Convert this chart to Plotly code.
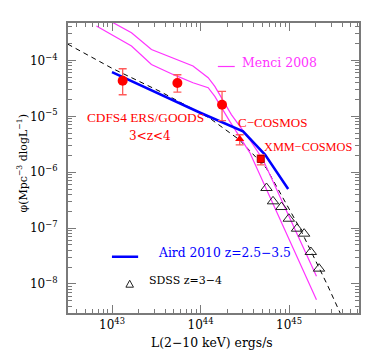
import plotly.graph_objects as go

# ---------------- data ----------------
cdfs_L = [1.32e43, 5.48e43, 1.75e44]
cdfs_phi = [4.34e-5, 3.94e-5, 1.61e-5]
cdfs_hi = [7.1e-5, 5.55e-5, 2.79e-5]
cdfs_lo = [2.43e-5, 2.72e-5, 8.34e-6]

ccosmos_L = [2.77e44]
ccosmos_phi = [3.93e-6]
ccosmos_hi = [4.68e-6]
ccosmos_lo = [3.09e-6]

xmm_L = [4.79e44]
xmm_phi = [1.72e-6]
xmm_hi = [2.04e-6]
xmm_lo = [1.35e-6]

sdss_L = [5.56e44, 6.59e44, 8.20e44, 9.93e44, 1.23e45, 1.48e45, 1.76e45, 2.18e45]
sdss_phi = [5.21e-7, 3.01e-7, 2.38e-7, 1.47e-7, 9.75e-8, 7.94e-8, 3.73e-8, 1.88e-8]

aird_L = [1.0e43, 9.77e43, 3.02e44, 5.37e44, 9.77e44]
aird_phi = [6.17e-5, 1.17e-5, 5.37e-6, 2.04e-6, 5.01e-7]

model_L = [3.16e42, 1.0e43, 3.55e43, 1.26e44, 2.75e44, 5.56e44, 1.32e45, 2.75e45, 3.98e45]
model_phi = [1.96e-4, 7.24e-5, 2.75e-5, 9.33e-6, 3.80e-6, 1.17e-6, 1.0e-7, 9.12e-9, 2.51e-9]

menci_hi_L = [8.91e42, 1.66e43, 2.79e43, 4.89e43, 8.22e43, 1.22e44, 1.45e44, 2.23e44, 3.60e44, 5.08e44, 2.04e45]
menci_hi_phi = [5.37e-4, 3.13e-4, 1.57e-4, 1.12e-4, 7.94e-5, 4.91e-5, 3.43e-5, 1.07e-5, 3.80e-6, 1.67e-6, 1.37e-8]

menci_lo_L = [6.67e42, 1.66e43, 2.79e43, 4.89e43, 8.22e43, 1.22e44, 1.45e44, 2.14e44, 3.60e44, 2.04e45]
menci_lo_phi = [4.12e-4, 1.81e-4, 8.47e-5, 5.62e-5, 3.99e-5, 3.25e-5, 2.27e-5, 8.11e-6, 2.24e-6, 5.24e-9]

x_tickvals = [1e43, 1e44, 1e45]
x_ticktext = ["10<sup>43</sup>", "10<sup>44</sup>", "10<sup>45</sup>"]
y_tickvals = [1e-8, 1e-7, 1e-6, 1e-5, 1e-4]
y_ticktext = ["10<sup>−8</sup>", "10<sup>−7</sup>", "10<sup>−6</sup>", "10<sup>−5</sup>", "10<sup>−4</sup>"]

# ---------------- styles ----------------
RED = "#ff0000"
ERR = "#ff5a5a"
MAG = "#ff33ff"
BLUE = "#0000ff"
DJ = "DejaVu Serif"
LS = "Liberation Serif"


def err(hi, val, lo):
    return dict(type="data", symmetric=False,
                array=[h - v for h, v in zip(hi, val)],
                arrayminus=[v - l for v, l in zip(val, lo)],
                color=ERR, thickness=1.3, width=4)


fig = go.Figure()

fig.add_trace(go.Scatter(x=model_L, y=model_phi, mode="lines",
                         line=dict(color="black", width=1, dash="5px,4px")))
fig.add_trace(go.Scatter(x=menci_hi_L, y=menci_hi_phi, mode="lines",
                         line=dict(color=MAG, width=1.2)))
fig.add_trace(go.Scatter(x=menci_lo_L, y=menci_lo_phi, mode="lines",
                         line=dict(color=MAG, width=1.2)))
fig.add_trace(go.Scatter(x=aird_L, y=aird_phi, mode="lines",
                         line=dict(color=BLUE, width=2.5)))
fig.add_trace(go.Scatter(x=sdss_L, y=sdss_phi, mode="markers",
                         marker=dict(symbol="triangle-up-open", size=10,
                                     color="#222222", line=dict(width=1))))
fig.add_trace(go.Scatter(x=cdfs_L, y=cdfs_phi, mode="markers",
                         marker=dict(symbol="circle", size=10, color=RED),
                         error_y=err(cdfs_hi, cdfs_phi, cdfs_lo)))
fig.add_trace(go.Scatter(x=ccosmos_L, y=ccosmos_phi, mode="markers",
                         marker=dict(symbol="triangle-up", size=8, color=RED),
                         error_y=err(ccosmos_hi, ccosmos_phi, ccosmos_lo)))
fig.add_trace(go.Scatter(x=xmm_L, y=xmm_phi, mode="markers",
                         marker=dict(symbol="square", size=7, color=RED,
                                     line=dict(color="#aa0000", width=1)),
                         error_y=err(xmm_hi, xmm_phi, xmm_lo)))

axis_common = dict(type="log", showgrid=False, zeroline=False, automargin=False,
                   showline=True, linecolor="#7a7a7a", linewidth=2,
                   mirror="allticks", ticks="inside", ticklen=8,
                   tickcolor="#7a7a7a", tickwidth=1,
                   minor=dict(ticks="inside", ticklen=4, dtick="D1",
                              tickcolor="#7a7a7a", tickwidth=1, showgrid=False),
                   tickfont=dict(family=DJ, size=12, color="black"))

# the page body adds an 8px offset, so the figure is sized to fit the window
fig.update_layout(
    width=374, height=351,
    margin=dict(l=60, r=23, t=15, b=46),
    paper_bgcolor="white", plot_bgcolor="white",
    showlegend=False,
    xaxis=dict(axis_common, range=[42.503, 45.79],
               tickvals=x_tickvals, ticktext=x_ticktext),
    yaxis=dict(axis_common, range=[-8.52, -3.33],
               tickvals=y_tickvals, ticktext=y_ticktext, ticklabelstandoff=6),
)

ann = [
    dict(text="Menci 2008", x=0.591, y=0.863, xanchor="left", color=MAG, fam=DJ, size=12.5),
    dict(text="CDFS4 ERS/GOODS", x=0.267, y=0.673, xanchor="center", color=RED, fam=LS, size=13.3),
    dict(text="3&lt;z&lt;4", x=0.281, y=0.611, xanchor="center", color=RED, fam=DJ, size=12),
    dict(text="C−COSMOS", x=0.576, y=0.656, xanchor="left", color=RED, fam=LS, size=13),
    dict(text="XMM−COSMOS", x=0.666, y=0.574, xanchor="left", color=RED, fam=LS, size=12.3),
    dict(text="Aird 2010 z=2.5−3.5", x=0.304, y=0.207, xanchor="left", color=BLUE, fam=DJ, size=12.3),
    dict(text="SDSS z=3−4", x=0.273, y=0.112, xanchor="left", color="black", fam=DJ, size=11),
]
for a in ann:
    fig.add_annotation(text=a["text"], x=a["x"], y=a["y"], xref="paper", yref="paper",
                       xanchor=a["xanchor"], yanchor="middle", showarrow=False,
                       font=dict(family=a["fam"], size=a["size"], color=a["color"]))

# axis titles
fig.add_annotation(text="φ(Mpc<sup>−3</sup> dlogL<sup>−1</sup>)", x=-0.155, y=0.515,
                   xref="paper", yref="paper", textangle=-90, showarrow=False,
                   xanchor="center", yanchor="middle",
                   font=dict(family=DJ, size=11, color="black"))
fig.add_annotation(text="L(2−10 keV) ergs/s", x=0.4955, y=-0.101,
                   xref="paper", yref="paper", showarrow=False,
                   xanchor="center", yanchor="middle",
                   font=dict(family=DJ, size=12.4, color="black"))

# legend samples
fig.add_shape(type="line", xref="paper", yref="paper", x0=0.515, x1=0.573, y0=0.850, y1=0.850,
              line=dict(color=MAG, width=1.2))
fig.add_shape(type="line", xref="paper", yref="paper", x0=0.151, x1=0.241, y0=0.194, y1=0.194,
              line=dict(color=BLUE, width=2.5))
fig.add_shape(type="path", xref="paper", yref="paper",
              path="M 0.199,0.089 L 0.225,0.089 L 0.212,0.113 Z",
              line=dict(color="#222222", width=1))

fig.write_html("out.html")
